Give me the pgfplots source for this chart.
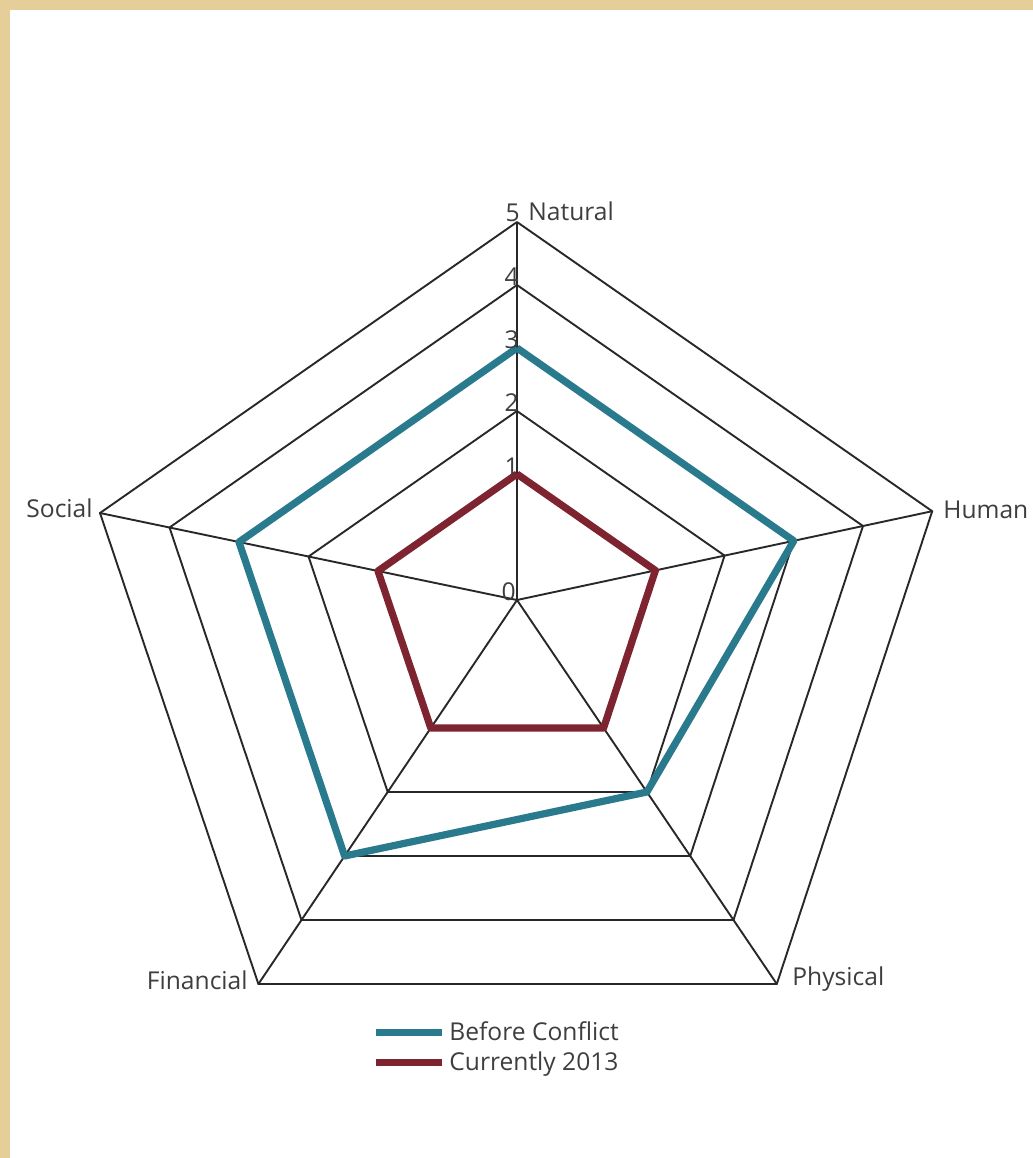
\documentclass[border=0pt]{standalone}
\usepackage{pgfplots}
\pgfplotsset{compat=1.18}
\usepackage{pgfplotstable}
\usepackage{fontspec}
\setmainfont{Open Sans}
\definecolor{tanbg}{RGB}{229,206,152}
\definecolor{beforec}{RGB}{42,122,142}
\definecolor{nowc}{RGB}{125,36,48}
\definecolor{gridc}{RGB}{40,40,40}
\definecolor{txt}{RGB}{62,62,62}
\newcommand{\labfont}{\fontsize{12.3pt}{14pt}\selectfont}

% step of one ring along each spoke (picture units, y downward) and the two series
\pgfplotstableread{
cat dx dy before now
Natural 0 -63 3 1
Human 69.2 -14.8 3 1
Physical 43.3 64 2 1
Financial -43.1 64 3 1
Social -69.5 -14.5 3 1
Natural 0 -63 3 1
}\radar
\def\cx{517}
\def\cy{600}

\begin{document}
\begin{tikzpicture}
\useasboundingbox (0,0) rectangle (516.5pt,579pt);
\clip (0,0) rectangle (516.5pt,579pt);
\fill[tanbg] (0,0) rectangle (516.5pt,579pt);
\fill[white] (5pt,0) rectangle (516.5pt,574pt);
\begin{axis}[
  scale only axis, width=516.5pt, height=579pt,
  at={(0,0)}, anchor=south west,
  xmin=0, xmax=1033, ymin=0, ymax=1158, y dir=reverse,
  axis lines=none, clip=false,
  legend style={draw=none, fill=none, at={(axis cs:366,1013)}, anchor=north west,
    font=\labfont, text=txt, row sep=0.2pt, nodes={inner sep=2pt}},
  legend cell align=left,
  legend image code/.code={\draw[#1, line width=3.5pt] (0pt,0pt) -- (33pt,0pt);},
]
% rings 1..5
\pgfplotsinvokeforeach{1,...,5}{
  \addplot[forget plot, gridc, line width=0.95pt, line join=miter]
    table[x expr=\cx+(#1+1)*\thisrow{dx}, y expr=\cy+(#1+1)*\thisrow{dy}] {\radar};
}
% spokes
\addplot[forget plot, gridc, line width=0.95pt,
  quiver={u=6*\thisrow{dx}, v=6*\thisrow{dy}}]
  table[x expr=\cx, y expr=\cy] {\radar};
% series
\addplot[beforec, line width=3.6pt, line join=round]
  table[x expr=\cx+(\thisrow{before}+1)*\thisrow{dx}, y expr=\cy+(\thisrow{before}+1)*\thisrow{dy}] {\radar};
\addlegendentry{Before Conflict}
\addplot[nowc, line width=3.6pt, line join=round]
  table[x expr=\cx+(\thisrow{now}+1)*\thisrow{dx}, y expr=\cy+(\thisrow{now}+1)*\thisrow{dy}] {\radar};
\addlegendentry{Currently 2013}
% radial tick labels and category names
\begin{scope}[every node/.style={inner sep=0pt, text=txt, font=\labfont}]
\node[anchor=base east] at (axis cs:520,221) {5};
\node[anchor=base east] at (axis cs:519,285) {4};
\node[anchor=base east] at (axis cs:519,348) {3};
\node[anchor=base east] at (axis cs:519,411) {2};
\node[anchor=base east] at (axis cs:519,475) {1};
\node[anchor=base east] at (axis cs:516,600) {0};
\node[anchor=base west] at (axis cs:528,220) {Natural};
\node[anchor=base west] at (axis cs:943,518) {Human};
\node[anchor=base west] at (axis cs:792,985) {Physical};
\node[anchor=base east] at (axis cs:248,989) {Financial};
\node[anchor=base east] at (axis cs:93,517) {Social};
\end{scope}
\end{axis}
\end{tikzpicture}
\end{document}
